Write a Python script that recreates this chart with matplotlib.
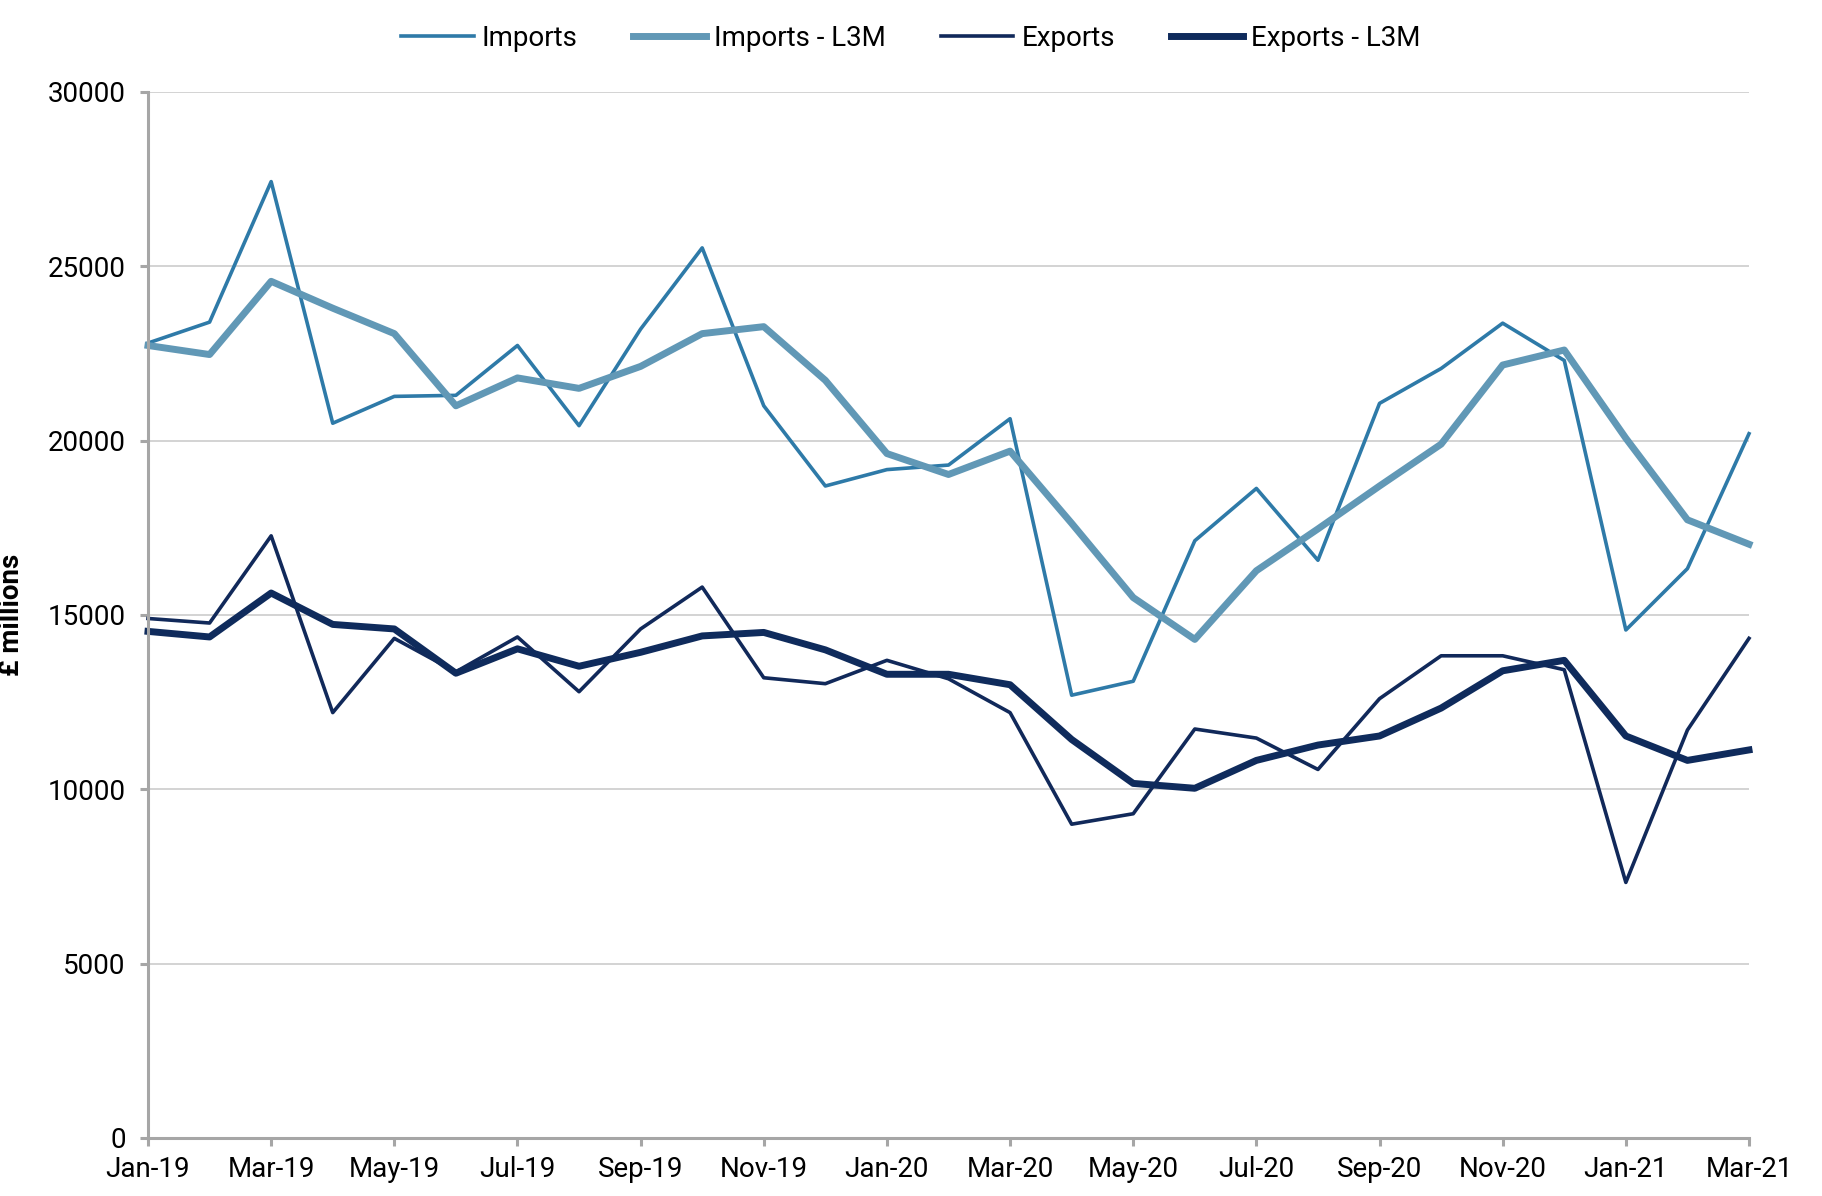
import matplotlib
matplotlib.use("Agg")
import matplotlib.pyplot as plt
import numpy as np

months = ["Jan-19","Feb-19","Mar-19","Apr-19","May-19","Jun-19","Jul-19","Aug-19","Sep-19","Oct-19",
          "Nov-19","Dec-19","Jan-20","Feb-20","Mar-20","Apr-20","May-20","Jun-20","Jul-20","Aug-20",
          "Sep-20","Oct-20","Nov-20","Dec-20","Jan-21","Feb-21","Mar-21"]

imports = [22800, 23400, 27430, 20500, 21270, 21300, 22730, 20430, 23200, 25530,
           21000, 18700, 19170, 19300, 20630, 12700, 13100, 17130, 18630, 16570,
           21070, 22070, 23370, 22300, 14570, 16330, 20200]
imports_l3m = [22730, 22470, 24570, 23800, 23070, 21000, 21800, 21500, 22130, 23070,
               23270, 21730, 19630, 19030, 19700, 17630, 15500, 14300, 16270, 17470,
               18700, 19900, 22170, 22600, 20070, 17730, 17030]
exports = [14900, 14770, 17270, 12200, 14330, 13370, 14370, 12800, 14600, 15800,
           13200, 13030, 13700, 13170, 12200, 9000, 9300, 11730, 11470, 10570,
           12600, 13830, 13830, 13430, 7330, 11700, 14330]
exports_l3m = [14530, 14370, 15630, 14730, 14600, 13330, 14030, 13530, 13930, 14400,
               14500, 14000, 13300, 13300, 13000, 11430, 10170, 10030, 10830, 11270,
               11530, 12330, 13400, 13700, 11530, 10830, 11130]

plt.rcParams['font.family'] = ['Roboto', 'DejaVu Sans']

fig = plt.figure(figsize=(18.22, 11.96), dpi=100)
ax = fig.add_axes([148/1822, 1-1138/1196, (1749-148)/1822, (1138-92)/1196])

x = np.arange(len(months))
ax.plot(x, imports, color="#2e7aa8", lw=2.6, label="Imports", clip_on=False)
ax.plot(x, imports_l3m, color="#6198b6", lw=5, label="Imports - L3M", clip_on=False)
ax.plot(x, exports, color="#11295a", lw=2.6, label="Exports", clip_on=False)
ax.plot(x, exports_l3m, color="#0f2b5c", lw=5, label="Exports - L3M", clip_on=False)

ax.set_xlim(0, len(months)-1)
ax.set_ylim(0, 30000)
ax.set_yticks(range(0, 30001, 5000))
ax.set_xticks(x[::2])
ax.set_xticklabels(months[::2])
ax.grid(axis='y', color='#cccccc', lw=1.2)
ax.set_axisbelow(True)
for s in ['top', 'right']:
    ax.spines[s].set_visible(False)
for s in ['left', 'bottom']:
    ax.spines[s].set_color('#a6a6a6')
    ax.spines[s].set_linewidth(2.2)
ax.tick_params(axis='x', colors='#a6a6a6', length=6, width=2.2, labelcolor='black', labelsize=20, pad=7)
ax.tick_params(axis='y', colors='#a6a6a6', length=6, width=2.2, labelcolor='black', labelsize=20, pad=10)
ax.set_ylabel("£ millions", fontsize=20, fontweight='bold', labelpad=16)

leg = fig.legend(loc='upper center', bbox_to_anchor=(0.5, 1.0), ncol=4, frameon=False,
                 fontsize=20, handlelength=2.6, handletextpad=0.3, columnspacing=2.0)

fig.savefig("out.png", dpi=100)
